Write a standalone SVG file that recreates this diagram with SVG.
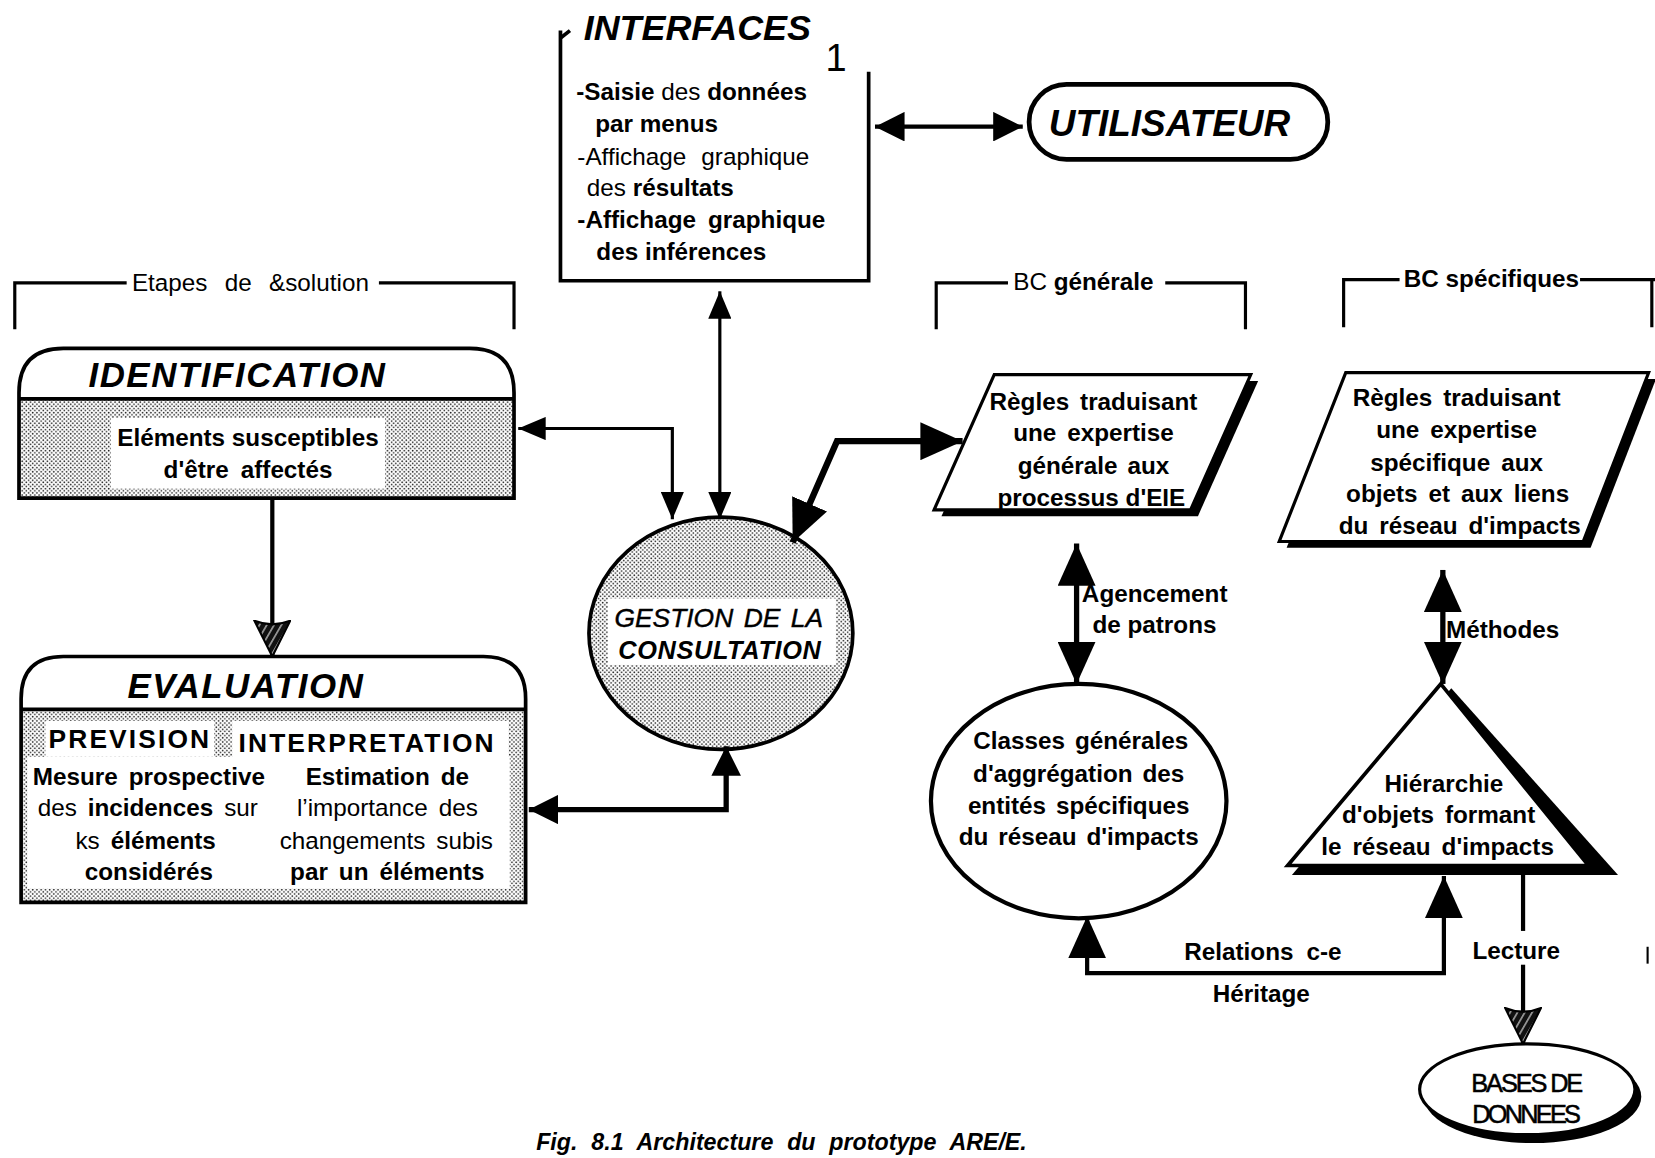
<svg xmlns="http://www.w3.org/2000/svg" width="1655" height="1158" viewBox="0 0 1655 1158">
  <defs>
    <style>
      text { font-family: "Liberation Sans", Arial, Helvetica, sans-serif; font-size: 23px; fill: #000; }
      .b { font-weight: bold; }
      .i { font-style: italic; }
      .bi { font-weight: bold; font-style: italic; }
      .mid { text-anchor: middle; }
      .ln { fill: none; stroke: #000; stroke-linejoin: miter; }
      .brk { fill: none; stroke: #000; stroke-width: 3; }
      .shade { fill: url(#dots); }
      .box { fill: none; stroke: #000; stroke-width: 3.5; }
    </style>
    <!-- dithered grey fill -->
    <pattern id="dots" patternUnits="userSpaceOnUse" width="4" height="4">
      <rect width="4" height="4" fill="#fff"/>
      <circle cx="1" cy="1" r="0.8" fill="#222"/>
      <circle cx="3" cy="3" r="0.8" fill="#222"/>
    </pattern>
    <!-- dark hatching for the shield-shaped heads -->
    <pattern id="hatch" patternUnits="userSpaceOnUse" width="6" height="6" patternTransform="rotate(-60)">
      <rect width="6" height="6" fill="#111"/>
      <rect width="1.6" height="6" fill="#9a9a9a"/>
    </pattern>
    <marker id="hs" viewBox="0 0 26 22" refX="26" refY="11" markerWidth="26" markerHeight="22" markerUnits="userSpaceOnUse" orient="auto-start-reverse">
      <path d="M0,0 L26,11 L0,22 Z" fill="#000"/>
    </marker>
    <marker id="hm" viewBox="0 0 28 28" refX="28" refY="14" markerWidth="28" markerHeight="28" markerUnits="userSpaceOnUse" orient="auto-start-reverse">
      <path d="M0,0 L28,14 L0,28 Z" fill="#000"/>
    </marker>
    <marker id="hl" viewBox="0 0 40 36" refX="40" refY="18" markerWidth="40" markerHeight="36" markerUnits="userSpaceOnUse" orient="auto-start-reverse">
      <path d="M0,0 L40,18 L0,36 Z" fill="#000"/>
    </marker>
    <marker id="hh" viewBox="-1 -1 36 36" refX="34" refY="17" markerWidth="36" markerHeight="36" markerUnits="userSpaceOnUse" orient="auto">
      <path d="M0,0 Q7,17 0,34 L34,17 Z" fill="url(#hatch)" stroke="#000" stroke-width="2"/>
    </marker>
  </defs>

  <rect width="1655" height="1158" fill="#fff"/>

  <g transform="scale(1.05548)">

    <!-- section brackets -->
    <g id="bracket-etapes">
      <path class="brk" d="M14,312 V268 H120 M359,268 H487 V312"/>
      <text x="125" y="276" style="word-spacing:10px">Etapes de &amp;solution</text>
    </g>
    <g id="bracket-bc-generale">
      <path class="brk" d="M887,312 V268 H955 M1104,268 H1180 V312"/>
      <text x="960" y="275">BC <tspan class="b">générale</tspan></text>
    </g>
    <g id="bracket-bc-specifiques">
      <path class="brk" d="M1273,310 V265 H1326 M1497,265 H1568 M1565,265 V310"/>
      <text x="1330" y="272" class="b">BC spécifiques</text>
    </g>

    <!-- INTERFACES -->
    <g id="interfaces">
      <path class="box" d="M531,29 V266 H823 V68"/>
      <path d="M531,36 L540,29" stroke="#000" stroke-width="3.5" fill="none"/>
      <text x="553" y="38" class="bi" style="font-size:34px">INTERFACES</text>
      <text x="782" y="67" style="font-size:36px">1</text>
      <g style="font-size:24px">
        <text x="546" y="95"><tspan class="b">-Saisie</tspan> des <tspan class="b">données</tspan></text>
        <text x="564" y="125" class="b">par menus</text>
        <text x="547" y="156" style="word-spacing:8px">-Affichage graphique</text>
        <text x="556" y="186">des <tspan class="b">résultats</tspan></text>
        <text x="547" y="216" class="b" style="word-spacing:5px">-Affichage graphique</text>
        <text x="565" y="246" class="b">des inférences</text>
      </g>
    </g>

    <!-- UTILISATEUR -->
    <g id="utilisateur">
      <rect x="975" y="80" width="283" height="71" rx="35.5" fill="#fff" stroke="#000" stroke-width="4.5"/>
      <text x="1108" y="129" class="bi mid" style="font-size:35px">UTILISATEUR</text>
    </g>

    <!-- IDENTIFICATION -->
    <g id="identification">
      <rect x="18" y="378" width="469" height="94" class="shade"/>
      <rect x="105" y="396" width="260" height="67" fill="#fff"/>
      <path class="box" d="M18,472 V372 Q18,330 60,330 H445 Q487,330 487,372 V472 Z M18,378 H487"/>
      <text x="225" y="367" class="bi mid" style="font-size:33px;letter-spacing:1.5px">IDENTIFICATION</text>
      <text x="235" y="423" class="b mid">Eléments susceptibles</text>
      <text x="235" y="453" class="b mid" style="word-spacing:5px">d'être affectés</text>
    </g>

    <!-- EVALUATION -->
    <g id="evaluation">
      <rect x="20" y="672" width="478" height="183" class="shade"/>
      <rect x="43" y="683" width="160" height="34" fill="#fff"/>
      <rect x="220" y="683" width="262" height="37" fill="#fff"/>
      <rect x="26" y="717" width="457" height="125" fill="#fff"/>
      <path class="box" d="M20,855 V662 Q20,622 60,622 H458 Q498,622 498,662 V855 Z M20,672 H498"/>
      <text x="233" y="661" class="bi mid" style="font-size:33px;letter-spacing:1.5px">EVALUATION</text>
      <text x="46" y="709" class="b" style="font-size:25px;letter-spacing:2px">PREVISION</text>
      <text x="226" y="712" class="b" style="font-size:25px;letter-spacing:2px">INTERPRETATION</text>
      <g style="word-spacing:4px">
        <text x="141" y="744" class="b mid">Mesure prospective</text>
        <text x="140" y="773" class="mid">des <tspan class="b">incidences</tspan> sur</text>
        <text x="138" y="804" class="mid">ks <tspan class="b">éléments</tspan></text>
        <text x="141" y="834" class="b mid">considérés</text>
        <text x="367" y="744" class="b mid">Estimation de</text>
        <text x="367" y="773" class="mid">l’importance des</text>
        <text x="366" y="804" class="mid">changements subis</text>
        <text x="367" y="834" class="b mid">par un éléments</text>
      </g>
    </g>

    <!-- GESTION DE LA CONSULTATION -->
    <g id="gestion">
      <ellipse cx="683" cy="600" rx="125" ry="110" class="shade" stroke="#000" stroke-width="3.5"/>
      <rect x="576" y="567" width="216" height="63" fill="#fff"/>
      <text x="681" y="594" class="i mid" style="font-size:25px;word-spacing:3px;stroke:#000;stroke-width:0.4px">GESTION DE LA</text>
      <text x="682" y="624" class="bi mid" style="font-size:24px;letter-spacing:0.6px">CONSULTATION</text>
    </g>

    <!-- Règles générales -->
    <g id="regles-generales">
      <polygon points="949,361 1192,361 1135,489 892,489" fill="#000"/>
      <polygon points="942,355 1185,355 1128,483 885,483" fill="#fff" stroke="#000" stroke-width="3"/>
      <g style="word-spacing:4px">
        <text x="1036" y="388" class="b mid">Règles traduisant</text>
        <text x="1036" y="418" class="b mid">une expertise</text>
        <text x="1036" y="449" class="b mid" style="word-spacing:3px">générale aux</text>
        <text x="1034" y="479" class="b mid" style="word-spacing:0">processus d'EIE</text>
      </g>
    </g>

    <!-- Règles spécifiques -->
    <g id="regles-specifiques">
      <polygon points="1282,359 1569,359 1507,519 1219,519" fill="#000"/>
      <polygon points="1275,353 1562,353 1500,513 1212,513" fill="#fff" stroke="#000" stroke-width="3"/>
      <g style="word-spacing:4px">
        <text x="1380" y="385" class="b mid">Règles traduisant</text>
        <text x="1380" y="415" class="b mid">une expertise</text>
        <text x="1380" y="446" class="b mid">spécifique aux</text>
        <text x="1381" y="476" class="b mid">objets et aux liens</text>
        <text x="1383" y="506" class="b mid">du réseau d'impacts</text>
      </g>
    </g>

    <!-- Classes générales -->
    <g id="classes-generales">
      <ellipse cx="1022" cy="759" rx="140" ry="111" fill="#fff" stroke="#000" stroke-width="4"/>
      <g style="word-spacing:3px">
        <text x="1024" y="710" class="b mid">Classes générales</text>
        <text x="1022" y="741" class="b mid">d'aggrégation des</text>
        <text x="1022" y="771" class="b mid">entités spécifiques</text>
        <text x="1022" y="801" class="b mid">du réseau d'impacts</text>
      </g>
    </g>

    <!-- Hiérarchie d'objets -->
    <g id="hierarchie">
      <polygon points="1375,652 1533,829 1224,829" fill="#000"/>
      <polygon points="1365,648 1505,820 1220,820" fill="#fff" stroke="#000" stroke-width="3.5" stroke-linejoin="miter"/>
      <g style="word-spacing:4px">
        <text x="1368" y="750" class="b mid">Hiérarchie</text>
        <text x="1363" y="780" class="b mid">d'objets formant</text>
        <text x="1362" y="810" class="b mid">le réseau d'impacts</text>
      </g>
    </g>

    <!-- BASES DE DONNEES -->
    <g id="bases-de-donnees">
      <ellipse cx="1452" cy="1039" rx="103" ry="44" fill="#000"/>
      <ellipse cx="1447" cy="1032" rx="102" ry="43" fill="#fff" stroke="#000" stroke-width="3"/>
      <text x="1446" y="1035" class="mid" style="font-size:24px;letter-spacing:-2px;stroke:#000;stroke-width:0.5px">BASES DE</text>
      <text x="1445" y="1064" class="mid" style="font-size:24px;letter-spacing:-2.6px;stroke:#000;stroke-width:0.5px">DONNEES</text>
    </g>

    <!-- connectors -->
    <g id="connectors">
      <path class="ln" stroke-width="4" d="M829,120 H969" marker-start="url(#hm)" marker-end="url(#hm)"/>
      <path class="ln" stroke-width="3" d="M491,406 H637 V492" marker-start="url(#hs)" marker-end="url(#hs)"/>
      <path class="ln" stroke-width="3" d="M682,276 V492" marker-start="url(#hs)" marker-end="url(#hs)"/>
      <path class="ln" stroke-width="6" d="M751,514 L793,418 H912" marker-start="url(#hl)" marker-end="url(#hl)"/>
      <path class="ln" stroke-width="5" d="M501,767 H688 V707" marker-start="url(#hm)" marker-end="url(#hm)"/>
      <path class="ln" stroke-width="4" d="M258,472 V622" marker-end="url(#hh)"/>
      <path class="ln" stroke-width="5" d="M1020,515 V648" marker-start="url(#hl)" marker-end="url(#hl)"/>
      <path class="ln" stroke-width="5" d="M1367,540 V648" marker-start="url(#hl)" marker-end="url(#hl)"/>
      <path class="ln" stroke-width="4" d="M1030,868 V922 H1368 V830" marker-start="url(#hl)" marker-end="url(#hl)"/>
      <path class="ln" stroke-width="4" d="M1443,828 V882"/>
      <path class="ln" stroke-width="4" d="M1443,914 V989" marker-end="url(#hh)"/>
      <text x="1025" y="570" class="b">Agencement</text>
      <text x="1035" y="600" class="b">de patrons</text>
      <text x="1370" y="604" class="b">Méthodes</text>
      <text x="1122" y="910" class="b" style="word-spacing:6px">Relations c-e</text>
      <text x="1195" y="949" class="b mid">Héritage</text>
      <text x="1395" y="909" class="b">Lecture</text>
    </g>

    <path d="M1561,897 V913" stroke="#000" stroke-width="2"/>

    <text x="508" y="1090" class="bi" style="font-size:22px;word-spacing:7px">Fig. 8.1 Architecture du prototype ARE/E.</text>
  </g>
</svg>
